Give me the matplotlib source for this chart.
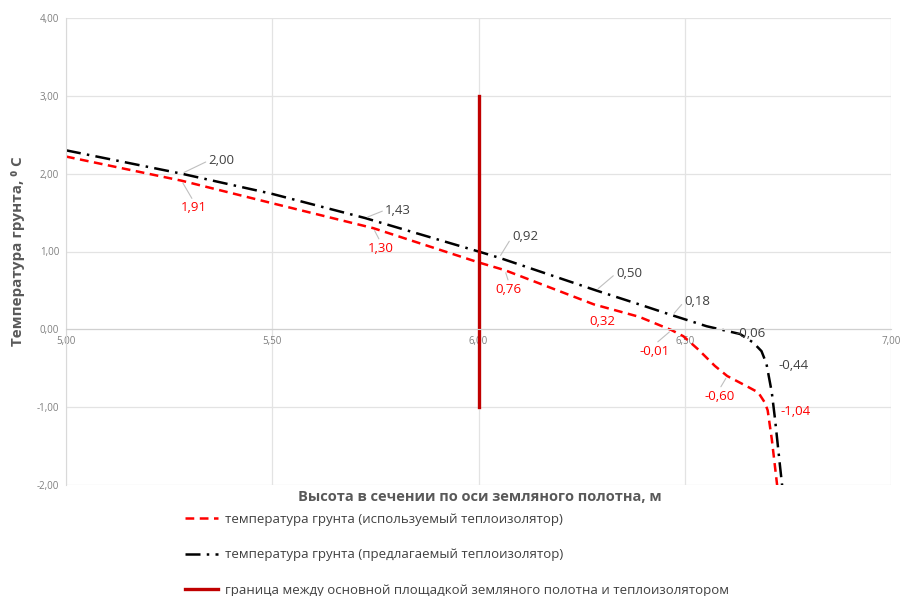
import matplotlib
matplotlib.use("Agg")
import matplotlib.pyplot as plt
from matplotlib.ticker import FuncFormatter

# temperature of soil, used insulator (red dashed)
x_used = [5.00, 5.28, 5.50, 5.745, 6.00, 6.064, 6.28, 6.39, 6.468, 6.497, 6.533,
          6.573, 6.603, 6.65, 6.678, 6.694, 6.701, 6.711, 6.725]
t_used = [2.22, 1.91, 1.62, 1.30, 0.86, 0.76, 0.32, 0.16, -0.01, -0.09, -0.26,
          -0.47, -0.60, -0.73, -0.81, -0.94, -1.04, -1.41, -2.05]
used_labels = [1, 3, 5, 6, 8, 12, 16]

# temperature of soil, proposed insulator (black dash-dot)
x_new = [5.00, 5.28, 5.50, 5.725, 6.00, 6.05, 6.285, 6.39, 6.47, 6.553, 6.634,
         6.666, 6.686, 6.698, 6.711, 6.719, 6.731, 6.737]
t_new = [2.30, 2.00, 1.74, 1.43, 1.00, 0.92, 0.50, 0.32, 0.18, 0.04, -0.06,
         -0.17, -0.28, -0.44, -0.81, -1.16, -1.76, -2.05]
new_labels = [1, 3, 5, 6, 8, 10, 13]

# boundary between subgrade and insulator
x_border = [6.00, 6.00]
t_border = [3.00, -1.00]

legend_texts = [
    "температура грунта (используемый теплоизолятор)",
    "температура грунта (предлагаемый теплоизолятор)",
    "граница между основной площадкой земляного полотна и теплоизолятором",
]

# label offsets in pixels (dx, dy) and whether a leader line is drawn
used_offsets = [(12, -27), (7, -20), (4, -19), (8, -17), (-17, -21), (-8, -20), (28, -1)]
used_leader = [True, True, True, False, True, True, False]
new_offsets = [(40, 13), (33, 8), (26, 21), (33, 17), (25, 14), (11, 1), (27, -2)]
new_leader = [True, True, True, True, True, False, False]

plt.rcParams["font.family"] = ["Open Sans", "DejaVu Sans"]

fig = plt.figure(figsize=(9.03, 5.96), dpi=100)
ax = fig.add_axes([66 / 903, 1 - 485 / 596, 825 / 903, 467 / 596])

ax.set_xlim(5.0, 7.0)
ax.set_ylim(-2.0, 4.0)
ax.set_xticks([5.0, 5.5, 6.0, 6.5, 7.0])
ax.set_yticks([-2, -1, 0, 1, 2, 3, 4])
comma = FuncFormatter(lambda v, p: f"{v:.2f}".replace(".", ","))
ax.xaxis.set_major_formatter(comma)
ax.yaxis.set_major_formatter(comma)
ax.grid(True, color="#e3e3e3", lw=0.9)
ax.set_axisbelow(True)
for s in ["top", "right"]:
    ax.spines[s].set_visible(False)
ax.spines["left"].set_color("#d9d9d9")
ax.spines["bottom"].set_position(("data", 0))
ax.spines["bottom"].set_color("#d0d0d0")
ax.tick_params(length=0, labelsize=7, labelcolor="#7f7f7f", pad=5)

l1, = ax.plot(x_used, t_used, color="#ff0000", lw=1.8, dashes=(3.5, 2.2))
l2, = ax.plot(x_new, t_new, color="#000000", lw=1.8, dashes=(6, 2.5, 1, 2.5))
l3, = ax.plot(x_border, t_border, color="#c00000", lw=2.4)

def put_labels(xs, ys, idx, offs, leaders, col):
    for i, (dx, dy), lead in zip(idx, offs, leaders):
        txt = f"{ys[i]:.2f}".replace(".", ",")
        ap = dict(arrowstyle="-", color="#bfbfbf", lw=0.8, shrinkA=0, shrinkB=2,
                  relpos=(0.0, 0.5) if dy > 0 else (0.5, 1.0)) if lead else None
        ax.annotate(txt, (xs[i], ys[i]), xytext=(dx, dy), textcoords="offset pixels",
                    ha="center", va="center", fontsize=9.5, color=col, arrowprops=ap)

put_labels(x_used, t_used, used_labels, used_offsets, used_leader, "#ff0000")
put_labels(x_new, t_new, new_labels, new_offsets, new_leader, "#404040")

ax.set_ylabel("Температура грунта, ⁰ C", fontsize=11, fontweight="bold", color="#595959", labelpad=8)
fig.text(480 / 903, 1 - 497 / 596, "Высота в сечении по оси земляного полотна, м",
         ha="center", va="center", fontsize=10.5, fontweight="bold", color="#595959")

fig.legend([l1, l2, l3], legend_texts, loc="upper left", bbox_to_anchor=(185 / 903, 1 - 513 / 596),
           frameon=False, fontsize=9.5, labelcolor="#404040", handlelength=2.5,
           handletextpad=0.5, labelspacing=1.7, borderpad=0, borderaxespad=0)

fig.savefig("out.png", dpi=100)
